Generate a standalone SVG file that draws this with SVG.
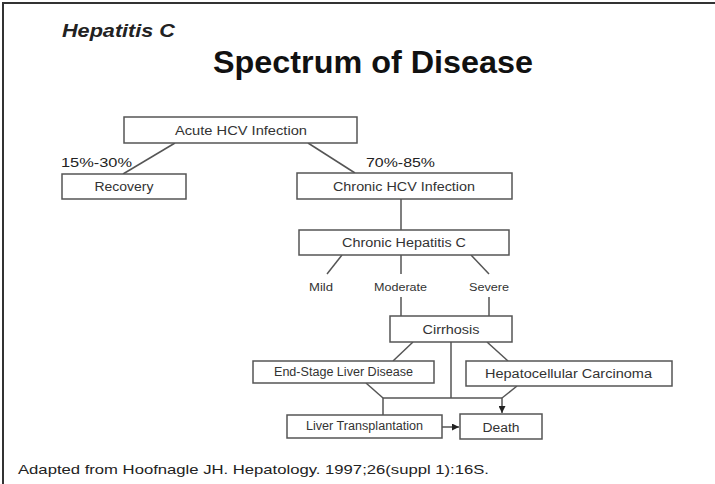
<svg xmlns="http://www.w3.org/2000/svg" width="715" height="484" viewBox="0 0 715 484">
<defs>
<style>
.bx{fill:#fff;stroke:#555;stroke-width:1.5}
.ln{fill:none;stroke:#555;stroke-width:1.5}
.t{font-family:"Liberation Sans",Arial,sans-serif;fill:#333;font-size:12px;text-anchor:middle}
.s{font-family:"Liberation Sans",Arial,sans-serif;fill:#333;font-size:10px;text-anchor:middle}
.p{font-family:"Liberation Sans",Arial,sans-serif;fill:#222;font-size:13px}
</style>
<marker id="ah" viewBox="0 0 10 10" refX="10" refY="5" markerWidth="7" markerHeight="7" markerUnits="userSpaceOnUse" orient="auto">
<path d="M0,0 L10,5 L0,10 Z" fill="#222"/>
</marker>
</defs>
<rect width="715" height="484" fill="#fff"/>
<path d="M3,484 V3 H715" fill="none" stroke="#333" stroke-width="2"/>
<text x="62" y="37" font-family="Liberation Sans,Arial,sans-serif" font-size="19" font-weight="bold" font-style="italic" fill="#222" textLength="113" lengthAdjust="spacingAndGlyphs">Hepatitis C</text>
<text x="213" y="73" font-family="Liberation Sans,Arial,sans-serif" font-size="32" font-weight="bold" fill="#111" textLength="320" lengthAdjust="spacingAndGlyphs">Spectrum of Disease</text>

<g id="connectors">
<line class="ln" x1="175" y1="143" x2="123" y2="174"/>
<line class="ln" x1="308" y1="143" x2="355" y2="173"/>
<line class="ln" x1="401" y1="199" x2="401" y2="230"/>
<line class="ln" x1="342" y1="255" x2="327" y2="274"/>
<line class="ln" x1="401" y1="255" x2="401" y2="274"/>
<line class="ln" x1="471" y1="255" x2="489" y2="274"/>
<line class="ln" x1="401" y1="297" x2="401" y2="316"/>
<line class="ln" x1="489" y1="297" x2="489" y2="316"/>
<line class="ln" x1="413" y1="342" x2="393" y2="361"/>
<line class="ln" x1="487" y1="342" x2="508" y2="361"/>
<line class="ln" x1="451" y1="342" x2="451" y2="398"/>
<line class="ln" x1="366" y1="383" x2="383" y2="398"/>
<line class="ln" x1="383" y1="398" x2="502" y2="398"/>
<line class="ln" x1="383" y1="398" x2="383" y2="415"/>
<line class="ln" x1="517" y1="386" x2="502" y2="398"/>
<line class="ln" x1="502" y1="398" x2="502" y2="413" marker-end="url(#ah)"/>
<line class="ln" x1="442" y1="427" x2="459" y2="427" marker-end="url(#ah)"/>
</g>

<g id="label-15-30"><text class="p" x="61" y="167" textLength="71" lengthAdjust="spacingAndGlyphs">15%-30%</text></g>
<g id="label-70-85"><text class="p" x="366" y="167" textLength="69" lengthAdjust="spacingAndGlyphs">70%-85%</text></g>

<g id="acute">
<rect class="bx" x="124" y="117" width="233" height="26"/>
<text class="t" x="241" y="135" textLength="132" lengthAdjust="spacingAndGlyphs">Acute HCV Infection</text>
</g>
<g id="recovery">
<rect class="bx" x="62" y="174" width="124" height="25"/>
<text class="t" x="124" y="191" textLength="59" lengthAdjust="spacingAndGlyphs">Recovery</text>
</g>
<g id="chronic-hcv">
<rect class="bx" x="297" y="173" width="215" height="26"/>
<text class="t" x="404" y="191" textLength="142" lengthAdjust="spacingAndGlyphs">Chronic HCV Infection</text>
</g>
<g id="chronic-hep">
<rect class="bx" x="299" y="230" width="210" height="25"/>
<text class="t" x="404" y="247" textLength="124" lengthAdjust="spacingAndGlyphs">Chronic Hepatitis C</text>
</g>
<g id="mild"><text class="s" x="321" y="291" textLength="24" lengthAdjust="spacingAndGlyphs">Mild</text></g>
<g id="moderate"><text class="s" x="400.5" y="291" textLength="53" lengthAdjust="spacingAndGlyphs">Moderate</text></g>
<g id="severe"><text class="s" x="489" y="291" textLength="40" lengthAdjust="spacingAndGlyphs">Severe</text></g>
<g id="cirrhosis">
<rect class="bx" x="390" y="316" width="122" height="26"/>
<text class="t" x="451" y="334" textLength="57" lengthAdjust="spacingAndGlyphs">Cirrhosis</text>
</g>
<g id="esld">
<rect class="bx" x="253" y="361" width="181" height="22"/>
<text class="t" x="343.5" y="376" font-size="11" textLength="139" lengthAdjust="spacingAndGlyphs">End-Stage Liver Disease</text>
</g>
<g id="hcc">
<rect class="bx" x="466" y="361" width="206" height="25"/>
<text class="t" x="568.5" y="378" textLength="167" lengthAdjust="spacingAndGlyphs">Hepatocellular Carcinoma</text>
</g>
<g id="transplant">
<rect class="bx" x="287" y="415" width="155" height="23"/>
<text class="t" x="364.5" y="430" font-size="11" textLength="117" lengthAdjust="spacingAndGlyphs">Liver Transplantation</text>
</g>
<g id="death">
<rect class="bx" x="460" y="414" width="82" height="25"/>
<text class="t" x="501" y="432" textLength="37" lengthAdjust="spacingAndGlyphs">Death</text>
</g>

<text class="p" x="18" y="474" font-size="13.5" textLength="471" lengthAdjust="spacingAndGlyphs">Adapted from Hoofnagle JH. Hepatology. 1997;26(suppl 1):16S.</text>
</svg>
